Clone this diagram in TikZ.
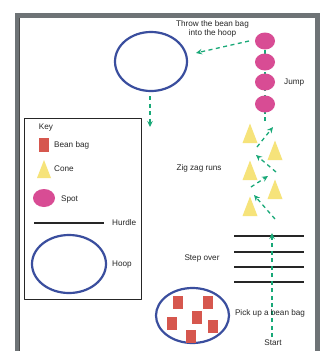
\documentclass[tikz,border=0pt]{standalone}
\usepackage{fontspec}
\setmainfont{Liberation Sans}
\usepackage{tikz}
\usetikzlibrary{arrows.meta}

\definecolor{framegray}{HTML}{6E7376}
\definecolor{hoopblue}{HTML}{3A4E9E}
\definecolor{spotpink}{HTML}{D84C94}
\definecolor{bagred}{HTML}{D6574E}
\definecolor{coneyellow}{HTML}{F6E37A}
\definecolor{routegreen}{HTML}{19A978}

\tikzset{
  hoopline/.style={draw=hoopblue, line width=2.2bp},
  spot/.style={fill=spotpink},
  beanbag/.style={fill=bagred},
  cone/.style={fill=coneyellow},
  hurdle/.style={draw=black!85, line width=2bp},
  route/.style={draw=routegreen, line width=1.3bp, dash pattern=on 4bp off 3.5bp},
  lbl/.style={font=\fontsize{8.2}{9}\selectfont, inner sep=0pt, text=black!85},
}

\begin{document}
\begin{tikzpicture}[x=1bp, y=-1bp, >={Stealth[length=6bp,width=5.5bp]}, line join=round]
  \useasboundingbox (0,0) rectangle (324,351);
  % frame
  \fill[framegray] (15,13) rectangle (320,351);
  \fill[white] (20,18) rectangle (315,351);
  \draw[black!70, line width=0.8bp] (19.6,18) -- (19.6,351);
  % hoop at the top
  \draw[hoopline] (151,61.5) ellipse (36 and 29.5);
  % spots
  \draw[route] (265,121) -- (265,41);
  \foreach \y in {41,62,82,104}
    \fill[spot] (265,\y) ellipse (10 and 8.5);
  % cones
  \foreach \x/\y in {250/143, 275/160, 250/180, 275/199, 250/216}
    \fill[cone] (\x-7.5,\y) -- (\x+7.5,\y) -- (\x,\y-19.5) -- cycle;
  % hurdles
  \foreach \y in {236,252,267,282}
    \draw[hurdle] (234,\y) -- (304,\y);
  % bean bag collection
  \draw[hoopline] (192.5,315.5) ellipse (36.5 and 27.5);
  \foreach \x/\y in {178/302, 208/302, 197/317, 172/323, 213/326, 191/336}
    \fill[beanbag] (\x-5,\y-6.5) rectangle (\x+5,\y+6.5);
  % key
  \draw[black!85, line width=0.8bp] (24,118) rectangle (141,299);
  \fill[beanbag] (39,138) rectangle (49,152);
  \fill[cone] (37,178) -- (51,178) -- (44,160) -- cycle;
  \fill[spot] (44,198) ellipse (11 and 9);
  \draw[hurdle] (34,223) -- (104,223);
  \draw[hoopline] (69,264) ellipse (37 and 29);
  % route ends
  \coordinate (t0) at (249,41);
  \coordinate (t1) at (196,53);
  \coordinate (h0) at (150,96);
  \coordinate (h1) at (150,127);
  \coordinate (z0) at (275,219);
  \coordinate (z1) at (254,195);
  \coordinate (z2) at (251,187);
  \coordinate (z3) at (268,176);
  \coordinate (z4) at (276,172);
  \coordinate (z5) at (256,155);
  \coordinate (z6) at (257,147);
  \coordinate (z7) at (273,127);
  \coordinate (s0) at (272,337);
  \coordinate (s1) at (272,233);
  \draw[route,->] (t0) -- (t1);
  \draw[route,->] (h0) -- (h1);
  \draw[route,->] (z0) -- (z1);
  \draw[route,->] (z2) -- (z3);
  \draw[route,->] (z4) -- (z5);
  \draw[route,->] (z6) -- (z7);
  \draw[route,->] (s0) -- (s1);
  % labels
  \node[lbl, align=center] (throw) at (212.5,28.5) {Throw the bean bag\\into the hoop};
  \node[lbl, anchor=west] (jump) at (284,83) {Jump};
  \node[lbl] (zigzag) at (199,168) {Zig zag runs};
  \node[lbl] (stepover) at (202,258) {Step over};
  \node[lbl] (pickup) at (270,313) {Pick up a bean bag};
  \node[lbl] (start) at (273,343) {Start};
  \node[lbl] (key) at (46,128) {Key};
  \node[lbl, anchor=west] (keybag) at (54,145) {Bean bag};
  \node[lbl, anchor=west] (keycone) at (54,169) {Cone};
  \node[lbl, anchor=west] (keyspot) at (61,199) {Spot};
  \node[lbl, anchor=west] (keyhurdle) at (112,223) {Hurdle};
  \node[lbl, anchor=west] (keyhoop) at (112,265) {Hoop};
\end{tikzpicture}
\end{document}
